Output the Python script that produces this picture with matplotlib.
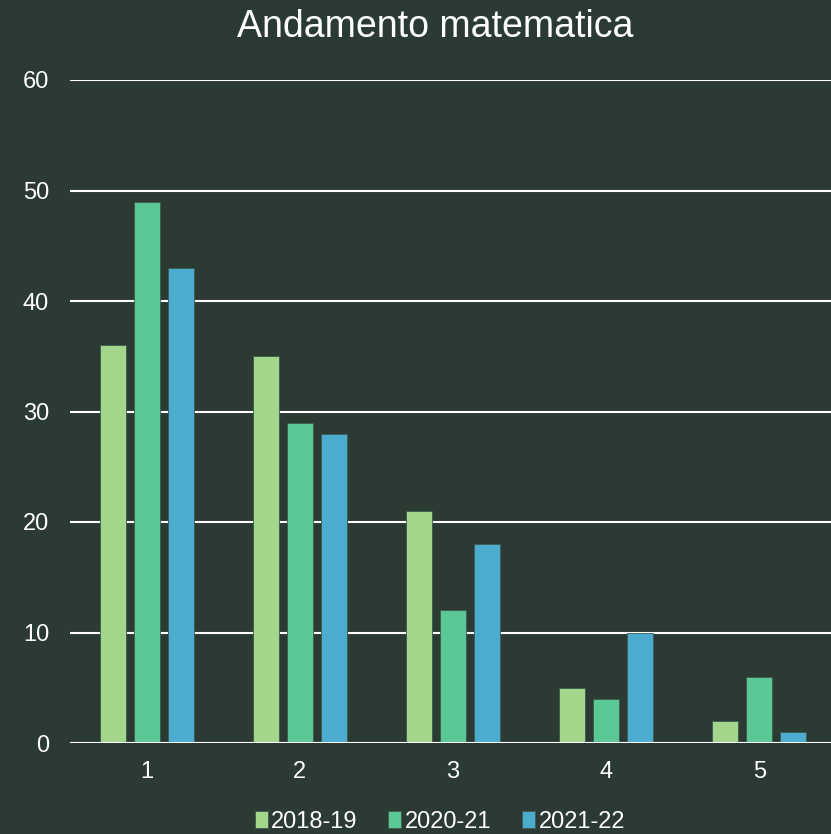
import numpy as np
import matplotlib.pyplot as plt

# Data
CATEGORIES = ["1", "2", "3", "4", "5"]
SERIES = ["2018-19", "2020-21", "2021-22"]
VALUES_2018 = [36, 35, 21, 5, 2]
VALUES_2020 = [49, 29, 12, 4, 6]
VALUES_2021 = [43, 28, 18, 10, 1]
COLORS = ["#a2d68a", "#5cc896", "#4bacd0"]
BG = "#2b3a33"

plt.rcParams["font.family"] = ["Liberation Sans", "DejaVu Sans"]

fig = plt.figure(figsize=(8.31, 8.34), dpi=100, facecolor=BG)
ax = fig.add_axes([70 / 831, (834 - 743) / 834, 766 / 831, (743 - 80) / 834])
ax.set_facecolor(BG)

x = np.arange(len(CATEGORIES))
width = 26 / 153
step = 34 / 153
for i, (vals, name) in enumerate(zip([VALUES_2018, VALUES_2020, VALUES_2021], SERIES)):
    ax.bar(x + (i - 1) * step, vals, width, color=COLORS[i], label=name,
           edgecolor="#3d5a4e", linewidth=0.6, zorder=3)

ax.set_xlim(-0.5, 4.5)
ax.set_ylim(0, 60)
ax.set_yticks(range(0, 61, 10))
ax.set_xticks(x)
ax.set_xticklabels(CATEGORIES)
ax.grid(axis="y", color="white", linewidth=1.5, zorder=0)
ax.axhline(0, color="white", linewidth=2.2, zorder=4)
for s in ax.spines.values():
    s.set_visible(False)
ax.tick_params(length=0, colors="white", labelsize=17)
ax.tick_params(axis="y", pad=15)
ax.tick_params(axis="x", pad=13)

fig.text(435 / 831, 1 - 27 / 834, "Andamento matematica", color="white",
         fontsize=27, ha="center", va="center")

fig.legend(loc="center", bbox_to_anchor=(440 / 831, 1 - 822 / 834), ncol=3,
           frameon=False, fontsize=17, handlelength=0.55, handleheight=0.75,
           handletextpad=0.15, columnspacing=1.3, labelcolor="white")

fig.savefig("out.png", dpi=100, facecolor=BG)
